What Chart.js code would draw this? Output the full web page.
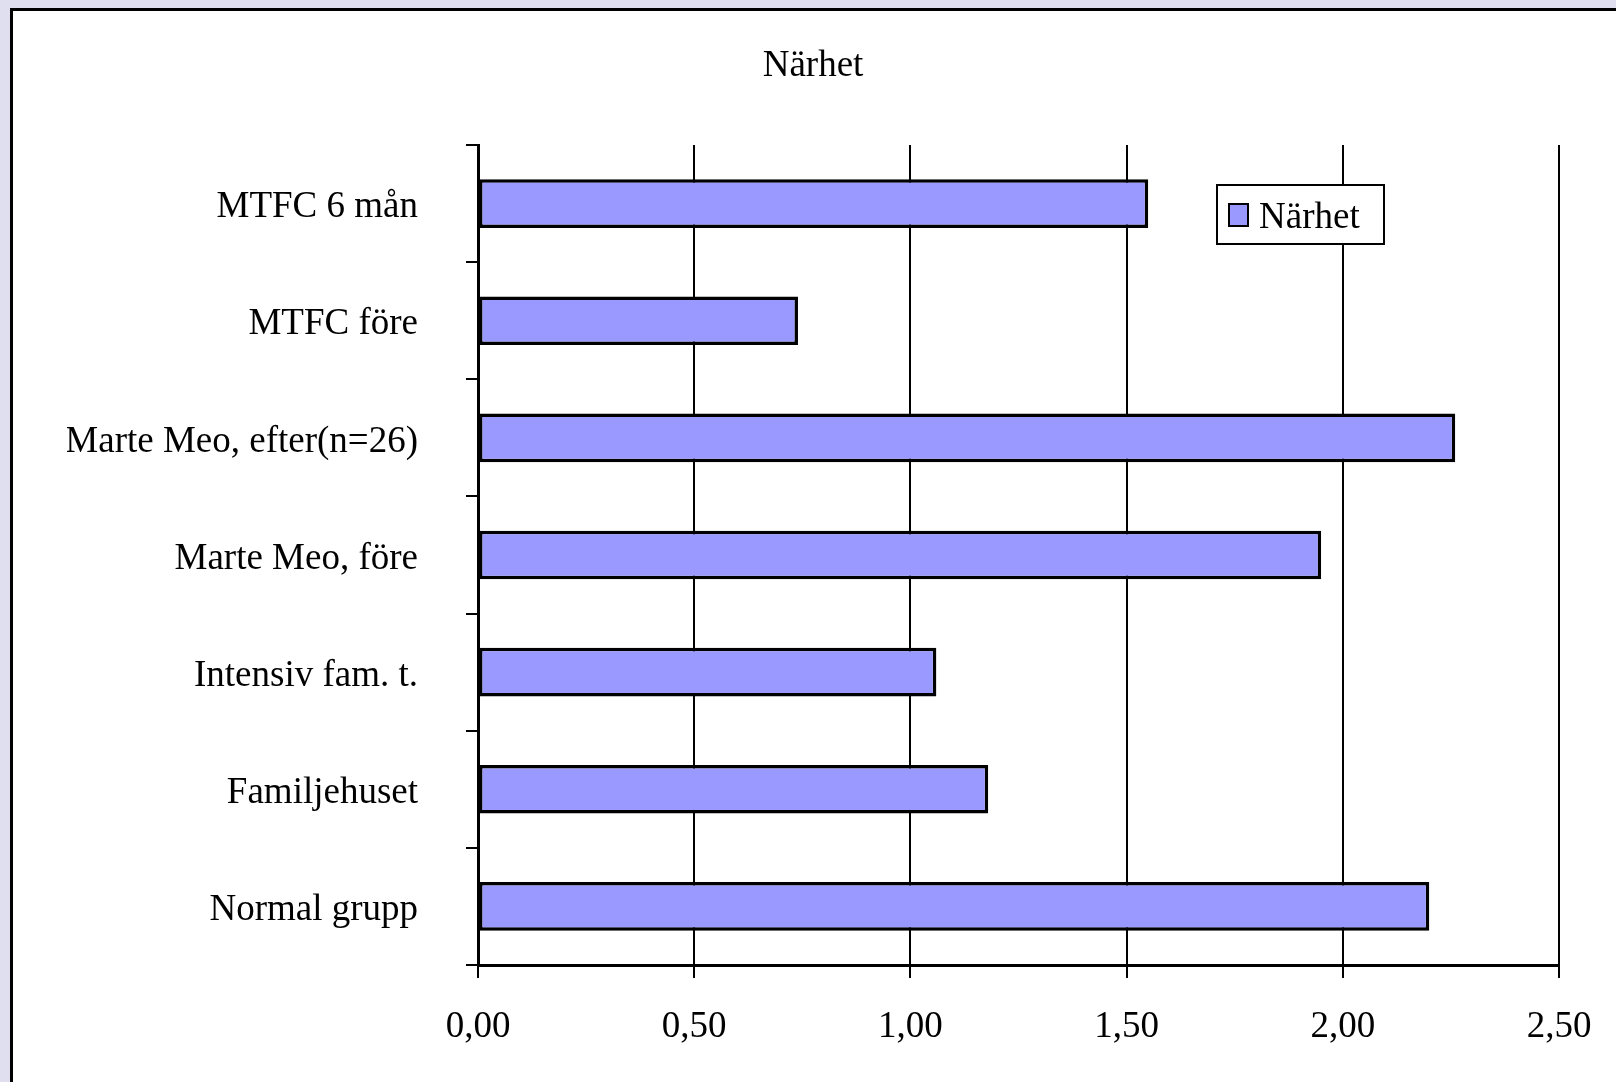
<!DOCTYPE html>
<html><head><meta charset="utf-8">
<script src="https://cdn.jsdelivr.net/npm/chart.js@4"></script>
<style>
html,body{margin:0;padding:0;background:#dfdfef;overflow:hidden;width:1616px;height:1082px;}
#frame{position:absolute;left:10px;top:8px;width:1700px;height:1200px;background:#fff;border:3px solid #000;box-sizing:border-box;}
#wrap{position:absolute;left:0;top:0;width:1616px;height:1082px;}
</style></head><body>
<div id="frame"></div>
<div id="wrap"><canvas id="c" width="1616" height="1082"></canvas></div>
<script>
const chartTitle = 'Närhet';
const seriesName = 'Närhet';
const categories = ['MTFC 6 mån', 'MTFC före', 'Marte Meo, efter(n=26)', 'Marte Meo, före', 'Intensiv fam. t.', 'Familjehuset', 'Normal grupp'];
const values = [1.55, 0.74, 2.26, 1.95, 1.06, 1.18, 2.20];
const xTickLabels = ['0,00', '0,50', '1,00', '1,50', '2,00', '2,50'];

const FONT = 'Liberation Serif';

const boxLegend = {
  id: 'boxLegend',
  afterDraw(chart) {
    const ctx = chart.ctx;
    const ds = chart.data.datasets[0];
    const a = chart.chartArea;
    const x = a.right - 343, y = a.top + 39, w = 169, h = 61;
    ctx.save();
    ctx.fillStyle = '#fff';
    ctx.fillRect(x, y, w, h);
    ctx.lineWidth = 2;
    ctx.strokeStyle = '#000';
    ctx.strokeRect(x + 1, y + 1, w - 2, h - 2);
    ctx.fillStyle = ds.backgroundColor;
    ctx.fillRect(x + 12, y + 19, 21, 24);
    ctx.lineWidth = 2;
    ctx.strokeRect(x + 13, y + 20, 19, 22);
    ctx.fillStyle = '#000';
    ctx.font = '37px "' + FONT + '"';
    ctx.textBaseline = 'alphabetic';
    ctx.textAlign = 'left';
    ctx.fillText(ds.label, x + 43, y + 43.5);
    ctx.restore();
  }
};

new Chart(document.getElementById('c'), {
  type: 'bar',
  data: {
    labels: categories,
    datasets: [{
      label: seriesName,
      data: values,
      backgroundColor: '#9999ff',
      borderColor: '#000',
      borderWidth: 3.5,
      borderSkipped: false,
      categoryPercentage: 1,
      barPercentage: 0.415
    }]
  },
  options: {
    indexAxis: 'y',
    responsive: false,
    animation: false,
    devicePixelRatio: 1,
    layout: { padding: { left: 67, right: 57, top: 0, bottom: 0 } },
    plugins: {
      legend: { display: false },
      tooltip: { enabled: false },
      title: {
        display: true,
        text: chartTitle,
        color: '#000',
        font: { family: FONT, size: 37, weight: 'normal' },
        padding: { top: 44, bottom: 56.6 }
      }
    },
    scales: {
      x: {
        min: 0, max: 2.5,
        afterFit(s) { s.height = 117; s.paddingLeft = 0; s.paddingRight = 0; },
        ticks: {
          stepSize: 0.5,
          color: '#000',
          padding: 27,
          maxRotation: 0,
          font: { family: FONT, size: 37 },
          callback: (v, i) => xTickLabels[i]
        },
        grid: { color: '#000', lineWidth: 2, tickLength: 13, drawTicks: true },
        border: { display: true, color: '#000', width: 3 }
      },
      y: {
        afterFit(s) { s.width = 411; },
        ticks: {
          color: '#000',
          padding: 48,
          labelOffset: 4,
          font: { family: FONT, size: 37 }
        },
        grid: { drawOnChartArea: false, color: '#000', lineWidth: 2, tickLength: 12, offset: true },
        border: { display: true, color: '#000', width: 3 }
      }
    }
  },
  plugins: [boxLegend]
});
</script>
</body></html>
